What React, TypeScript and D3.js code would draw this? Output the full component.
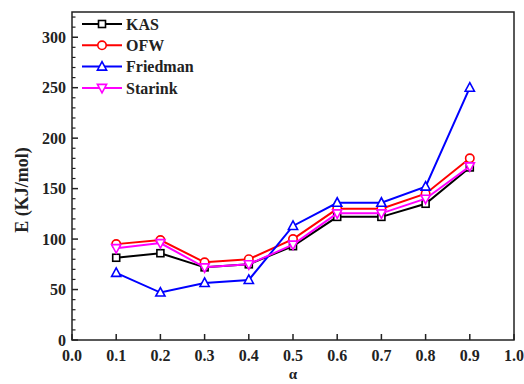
import React from "react";
import * as d3 from "d3";

const alphas = [0.1, 0.2, 0.3, 0.4, 0.5, 0.6, 0.7, 0.8, 0.9];
const kas = [81.5, 86, 72, 75, 93, 122, 122, 135, 171];
const ofw = [95, 99, 77, 80, 100, 130, 130, 145, 180];
const friedman = [66.5, 47, 56.5, 59.5, 113, 136, 136, 152, 250];
const starink = [91, 96, 72, 75, 94.5, 125.5, 125.5, 140, 172];
const seriesNames = ["KAS", "OFW", "Friedman", "Starink"];
const seriesColors = ["#000000", "#ff0000", "#0000ff", "#ff00ff"];
const seriesShapes = ["square", "circle", "triangle", "triangleDown"];
const xTicks = [0, 0.1, 0.2, 0.3, 0.4, 0.5, 0.6, 0.7, 0.8, 0.9, 1.0];
const yTicks = [0, 50, 100, 150, 200, 250, 300];

const W = 524, H = 384;
const L = 72, R = 514, T = 12, B = 340;
const FONT = "Liberation Serif, DejaVu Serif, serif";

function Marker({ shape, x, y, color }: { shape: string; x: number; y: number; color: string }) {
  const sw = 1.6;
  if (shape === "square") return <rect x={x - 3.5} y={y - 3.5} width={7} height={7} fill="#fff" stroke={color} strokeWidth={sw} />;
  if (shape === "circle") return <circle cx={x} cy={y} r={4.2} fill="#fff" stroke={color} strokeWidth={sw} />;
  if (shape === "triangle")
    return <path d={`M${x},${y - 5} L${x + 4.6},${y + 3.5} L${x - 4.6},${y + 3.5} Z`} fill="#fff" stroke={color} strokeWidth={sw} />;
  return <path d={`M${x},${y + 5} L${x + 4.6},${y - 3.5} L${x - 4.6},${y - 3.5} Z`} fill="#fff" stroke={color} strokeWidth={sw} />;
}

export default function App() {
  const x = d3.scaleLinear().domain([0, 1]).range([L, R]);
  const y = d3.scaleLinear().domain([0, 325]).range([B, T]);
  const data = [kas, ofw, friedman, starink];
  const line = d3
    .line<number>()
    .x((_, i) => x(alphas[i]))
    .y((d) => y(d));
  const minorY = d3.range(0, 330, 10).filter((v) => v % 50 !== 0);
  const txt = { fontFamily: FONT, fontWeight: "bold" as const };

  return (
    <svg width={W} height={H} style={{ position: "absolute", left: 0, top: 0 }}>
      <rect width={W} height={H} fill="#fff" />
      {yTicks.map((t) => (
        <g key={"y" + t}>
          <line x1={L} x2={L + 6} y1={y(t)} y2={y(t)} stroke="#222" strokeWidth={1.5} />
          <text x={L - 6} y={y(t)} dy="0.35em" textAnchor="end" style={txt} fontSize={16} fill="#222">
            {t}
          </text>
        </g>
      ))}
      {minorY.map((t) => (
        <line key={"my" + t} x1={L} x2={L + 3.5} y1={y(t)} y2={y(t)} stroke="#222" strokeWidth={1.2} />
      ))}
      {xTicks.map((t) => (
        <g key={"x" + t}>
          <line x1={x(t)} x2={x(t)} y1={B} y2={B - 6} stroke="#222" strokeWidth={1.5} />
          <text x={x(t)} y={B + 21} textAnchor="middle" style={txt} fontSize={16} fill="#222">
            {t.toFixed(1)}
          </text>
        </g>
      ))}
      {data.map((vals, si) => (
        <g key={seriesNames[si]}>
          <path d={line(vals) || ""} fill="none" stroke={seriesColors[si]} strokeWidth={2} />
          {vals.map((v, i) => (
            <Marker key={i} shape={seriesShapes[si]} x={x(alphas[i])} y={y(v)} color={seriesColors[si]} />
          ))}
        </g>
      ))}
      <rect x={L} y={T} width={R - L} height={B - T} fill="none" stroke="#222" strokeWidth={1.5} />
      {seriesNames.map((n, i) => {
        const ly = 24 + i * 21.3;
        return (
          <g key={"leg" + n}>
            <line x1={82} x2={122} y1={ly} y2={ly} stroke={seriesColors[i]} strokeWidth={2} />
            <Marker shape={seriesShapes[i]} x={102} y={ly} color={seriesColors[i]} />
            <text x={126} y={ly} dy="0.35em" style={txt} fontSize={16} fill="#222">
              {n}
            </text>
          </g>
        );
      })}
      <text
        transform={`translate(22,${(T + B) / 2 + 14}) rotate(-90)`}
        textAnchor="middle"
        dy="0.35em"
        style={txt}
        fontSize={18}
        fill="#222"
      >
        E (KJ/mol)
      </text>
      <text x={(L + R) / 2} y={379} textAnchor="middle" style={txt} fontSize={15} fill="#222">
        α
      </text>
    </svg>
  );
}
